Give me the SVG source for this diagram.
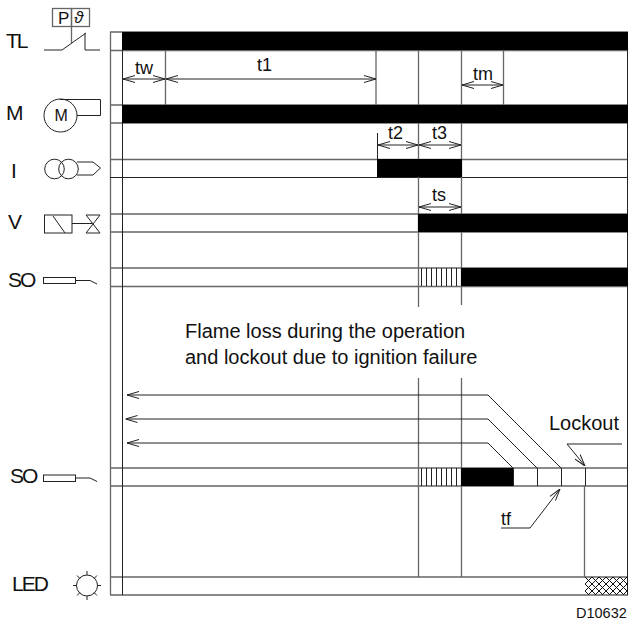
<svg xmlns="http://www.w3.org/2000/svg" width="628" height="623" viewBox="0 0 628 623">
<style>
text{font-family:"Liberation Sans",Arial,sans-serif;fill:#111}
.lab{font-size:21px;letter-spacing:-2px}
.t{font-size:18px}
.n{font-size:20px}
.g{stroke:#666;stroke-width:1.3;fill:none}
.k{stroke:#222;stroke-width:1;fill:none}
.b{fill:#000;stroke:none}
</style>
<defs>
<marker id="a" viewBox="0 0 12 8" refX="12" refY="4" markerWidth="12" markerHeight="8" orient="auto" markerUnits="userSpaceOnUse"><path d="M0 0.5L12 4L0 7.5" fill="none" stroke="#222" stroke-width="1"/></marker>
<marker id="s" viewBox="0 0 12 8" refX="0" refY="4" markerWidth="12" markerHeight="8" orient="auto" markerUnits="userSpaceOnUse"><path d="M12 0.5L0 4L12 7.5" fill="none" stroke="#222" stroke-width="1"/></marker>
<pattern id="x" width="7" height="7" patternUnits="userSpaceOnUse" x="585" y="577"><path d="M0 0L7 7M7 0L0 7" stroke="#111" stroke-width="1"/></pattern>
</defs>
<g id="timeline-frame">
<path class="g" d="M110.500 32V595M110 32H628M110 50.500H628M110 105H628M110 123H628M110 159.500H628M110 232H628M110 214H628M110 268H628M110 286.500H628M110 468H628M110 486H628M110 577H628M110 595H628"/>
<path class="k" d="M122.500 32V595M110 177.500H628M627.500 32V595"/>
</g>
<g id="connectors">
<path class="g" d="M165.500 50V105M376 50V105M418.500 50V307M461.500 50V305M503.500 50V105M418.500 378V577M461.500 378V577M584.500 486V577"/>
<path class="k" d="M377.500 133V160"/>
<line class="k" x1="123" y1="79" x2="165" y2="79" marker-start="url(#s)" marker-end="url(#a)"/>
<line class="k" x1="166" y1="79" x2="376" y2="79" marker-start="url(#s)" marker-end="url(#a)"/>
<line class="k" x1="462" y1="85" x2="503" y2="85" marker-start="url(#s)" marker-end="url(#a)"/>
<line class="k" x1="378" y1="145" x2="418" y2="145" marker-start="url(#s)" marker-end="url(#a)"/>
<line class="k" x1="419" y1="145" x2="461" y2="145" marker-start="url(#s)" marker-end="url(#a)"/>
<line class="k" x1="419" y1="207" x2="461" y2="207" marker-start="url(#s)" marker-end="url(#a)"/>
<path class="k" d="M513 468L488 443H127" marker-end="url(#a)"/>
<path class="k" d="M561 468L488 395H127" marker-end="url(#a)"/>
<path class="k" d="M537 468L488 419H125.500" marker-end="url(#a)"/>
<path class="k" d="M513.500 468V486M537.500 468V486M561.500 468V486M585.500 468V486"/>
<path class="k" d="M567 444H622"/>
<line class="k" x1="567" y1="444" x2="585" y2="466" marker-end="url(#a)"/>
<path class="k" d="M501 528H530L560 489" marker-end="url(#a)"/>
</g>
<g id="bars">
<rect class="b" x="122" y="32" width="506" height="18"/>
<rect class="b" x="122" y="105" width="506" height="18"/>
<rect class="b" x="377" y="159" width="85" height="18"/>
<rect class="b" x="418" y="214" width="210" height="18"/>
<rect class="b" x="461" y="268" width="167" height="18"/>
<rect class="b" x="461" y="468" width="52" height="18"/>
<path class="k" d="M421.500 268V286M426.500 268V286M431.500 268V286M436.500 268V286M441.500 268V286M446.500 268V286M451.500 268V286M456.500 268V286"/>
<path class="k" d="M421.500 468V486M426.500 468V486M431.500 468V486M436.500 468V486M441.500 468V486M446.500 468V486M451.500 468V486M456.500 468V486"/>
<rect x="585" y="577" width="43" height="18" fill="url(#x)"/>
</g>
<g id="node-tl">
<text class="lab" x="6" y="48">TL</text>
<rect class="g" x="52.500" y="8.500" width="19" height="18"/>
<rect class="g" x="71.500" y="8.500" width="18" height="18"/>
<text x="58" y="24" font-size="17">P</text>
<text x="74" y="23" font-size="17" font-style="italic">ϑ</text>
<path class="g" d="M71.500 27V43"/>
<path class="k" d="M44 50H62L86 33M85 33V50H100"/>
</g>
<g id="node-m">
<text class="lab" x="6" y="120" style="letter-spacing:0">M</text>
<circle class="k" cx="60.500" cy="115.500" r="16.500"/>
<text x="54.500" y="121" font-size="16">M</text>
<path class="k" d="M60 99.500H100.500V115.500H77"/>
</g>
<g id="node-i">
<text class="lab" x="11" y="178" style="letter-spacing:0">I</text>
<circle class="k" cx="54.500" cy="169" r="9.800"/>
<circle class="k" cx="68.500" cy="169" r="9.800"/>
<path class="k" d="M77 162H93L100.500 168L93 175H77"/>
</g>
<g id="node-v">
<text class="lab" x="8" y="229" style="letter-spacing:0">V</text>
<rect class="k" x="44.500" y="215" width="27.500" height="18"/>
<path class="k" d="M53 216L65 233M72 223.500H92M86 215H100L86 233H100Z"/>
</g>
<g id="node-so1">
<text class="lab" x="8" y="287">SO</text>
<rect class="k" x="43.500" y="277.500" width="32" height="6"/>
<path class="k" d="M76 280.500H90L97 284"/>
</g>
<g id="node-so2">
<text class="lab" x="10" y="483">SO</text>
<rect class="k" x="43.500" y="475" width="32" height="6.500"/>
<path class="k" d="M76 478H90L97 481.500"/>
</g>
<g id="node-led">
<text class="lab" x="12" y="591">LED</text>
<circle class="k" cx="87" cy="585.500" r="10.500"/>
<path class="k" d="M87 571V575M87 596V600M73 585.500H77M97 585.500H101M77 575.500L80 578.500M94 592.500L97 595.500M97 575.500L94 578.500M80 592.500L77 595.500"/>
</g>
<g id="labels">
<text class="t" x="135" y="74">tw</text>
<text class="t" x="257" y="71">t1</text>
<text class="t" x="473" y="80">tm</text>
<text class="t" x="388" y="139">t2</text>
<text class="t" x="432" y="139">t3</text>
<text class="t" x="432" y="201">ts</text>
<text class="t" x="501" y="525">tf</text>
<text class="n" x="185" y="338">Flame loss during the operation</text>
<text class="n" x="185" y="364">and lockout due to ignition failure</text>
<text class="n" x="549" y="430">Lockout</text>
<text x="576" y="618" font-size="14.500">D10632</text>
</g>
</svg>
